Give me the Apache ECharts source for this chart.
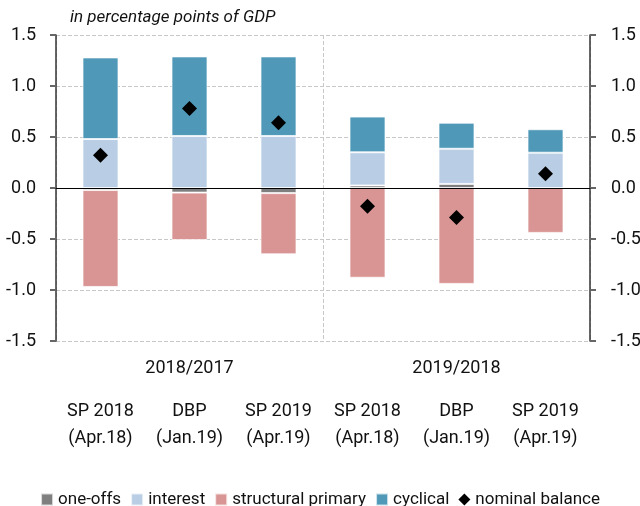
<!DOCTYPE html>
<html>
<head>
<meta charset="utf-8">
<script src="https://cdn.jsdelivr.net/npm/echarts@6/dist/echarts.min.js"></script>
<style>
  html, body { margin: 0; padding: 0; background: #fff; }
  #chart { width: 640px; height: 506px; }
</style>
</head>
<body>
<div id="chart"></div>
<script>
  var categories = ['SP 2018\n(Apr.18)', 'DBP\n(Jan.19)', 'SP 2019\n(Apr.19)', 'SP 2018\n(Apr.18)', 'DBP\n(Jan.19)', 'SP 2019\n(Apr.19)'];
  var groups = ['2018/2017', '2019/2018'];
  var oneOffs = [-0.02, -0.045, -0.05, 0.025, 0.04, 0.0];
  var interest = [0.48, 0.51, 0.51, 0.325, 0.345, 0.346];
  var structuralPrimary = [-0.95, -0.465, -0.60, -0.88, -0.94, -0.44];
  var cyclical = [0.80, 0.78, 0.78, 0.35, 0.255, 0.23];
  var nominalBalance = [0.32, 0.78, 0.64, -0.18, -0.29, 0.14];

  var font = "'Liberation Sans Narrow', Roboto, sans-serif";
  var chart = echarts.init(document.getElementById('chart'));

  // y axes share the same scale, one on each side
  function yAxis(pos) {
    return {
      type: 'value',
      position: pos,
      min: -1.5,
      max: 1.5,
      interval: 0.5,
      axisLine: { show: true, lineStyle: { color: '#333', width: 1.5 } },
      axisTick: { show: true, length: 6, lineStyle: { color: '#666', width: 2 } },
      axisLabel: {
        color: '#111',
        fontFamily: font,
        fontSize: 18,
        margin: pos === 'left' ? 20 : 21,
        formatter: function (v) { return v.toFixed(1); }
      },
      splitLine: pos === 'left' ? { show: true, lineStyle: { color: '#c8c8c8', type: 'dashed' } } : { show: false }
    };
  }

  function bar(name, data, color) {
    return {
      name: name,
      type: 'bar',
      stack: 'total',
      barWidth: 36,
      data: data,
      itemStyle: { color: color, borderColor: 'rgba(255,255,255,0.7)', borderWidth: 1 }
    };
  }

  var option = {
    animation: false,
    title: {
      text: 'in percentage points of GDP',
      left: 65,
      top: 4,
      textStyle: { fontFamily: font, fontStyle: 'italic', fontWeight: 'normal', fontSize: 17, color: '#111' }
    },
    grid: { left: 56, right: 50, top: 35, bottom: 165, outerBoundsMode: 'none' },
    legend: {
      top: 486,
      left: 'center',
      itemWidth: 12,
      itemHeight: 12,
      itemGap: 9,
      textStyle: { fontFamily: font, fontSize: 17, color: '#111' },
      data: [
        { name: 'one-offs', icon: 'rect' },
        { name: 'interest', icon: 'rect' },
        { name: 'structural primary', icon: 'rect' },
        { name: 'cyclical', icon: 'rect' },
        { name: 'nominal balance', icon: 'diamond', itemStyle: { color: '#000' } }
      ]
    },
    xAxis: [
      {
        type: 'category',
        data: categories,
        axisLine: { onZero: true, lineStyle: { color: '#000', width: 1 } },
        axisTick: { show: false },
        axisLabel: { color: '#111', fontFamily: font, fontSize: 18, lineHeight: 27, interval: 0, margin: 57 },
        z: 10
      },
      {
        type: 'category',
        data: groups,
        position: 'bottom',
        axisLine: { show: false },
        axisTick: { show: false },
        axisLabel: { color: '#111', fontFamily: font, fontSize: 18, margin: 18 },
        splitLine: { show: true, lineStyle: { color: '#c8c8c8', type: 'dashed' } }
      }
    ],
    yAxis: [yAxis('left'), yAxis('right')],
    series: [
      bar('one-offs', oneOffs, '#7f7f7f'),
      bar('interest', interest, '#b9cde5'),
      bar('structural primary', structuralPrimary, '#d99594'),
      bar('cyclical', cyclical, '#4f98b8'),
      {
        name: 'nominal balance',
        type: 'scatter',
        symbol: 'diamond',
        symbolSize: 15,
        data: nominalBalance,
        itemStyle: { color: '#000', opacity: 1 },
        z: 5
      }
    ]
  };

  chart.setOption(option);
</script>
</body>
</html>
